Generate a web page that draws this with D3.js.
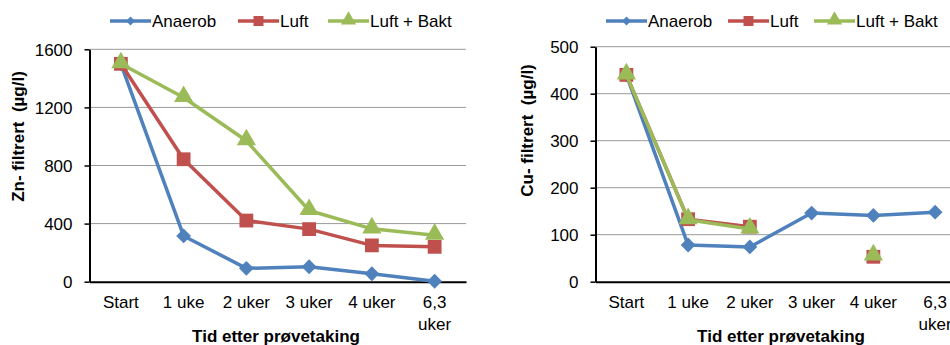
<!DOCTYPE html>
<html>
<head>
<meta charset="utf-8">
<script src="https://cdn.jsdelivr.net/npm/d3@7"></script>
<style>
  body { margin: 0; background: #fff; }
  text { font-family: Arial, 'Liberation Sans', sans-serif; }
</style>
</head>
<body>
<script>
  // data
  const categories = ['Start', '1 uke', '2 uker', '3 uker', '4 uker', '6,3 uker'];
  const seriesNames = ['Anaerob', 'Luft', 'Luft + Bakt'];

  const znAnaerob = [1500, 315, 92, 103, 55, 3];
  const znLuft = [1500, 843, 421, 362, 250, 240];
  const znLuftBakt = [1500, 1268, 970, 490, 364, 320];
  const znTicks = [0, 400, 800, 1200, 1600];

  const cuAnaerob = [440, 78, 74, 146, 141, 148];
  const cuLuft = [440, 133, 117, null, 53, null];
  const cuLuftBakt = [440, 132, 112, null, 55, null];
  const cuTicks = [0, 100, 200, 300, 400, 500];

  const colors = ['#4F81BD', '#C0504D', '#9BBB59'];

  const width = 950;
  const height = 345;

  const svg = d3
    .select('body')
    .append('svg')
    .attr('width', width)
    .attr('height', height);

  function markerPath(i, size) {
    // diamond = rotated square
    if (i === 2) return d3.symbol().type(d3.symbolTriangle).size(size)();
    return d3.symbol().type(d3.symbolSquare).size(size)();
  }

  function drawChart(cfg) {
    const g = svg.append('g');
    const x = d3.scaleBand().domain(categories).range([cfg.left, cfg.right]);
    const y = d3.scaleLinear().domain([0, cfg.max]).range([281.7, cfg.top]);

    // gridlines
    g.append('g')
      .selectAll('line')
      .data(cfg.ticks.filter((t) => t > 0))
      .enter()
      .append('line')
      .attr('x1', cfg.left)
      .attr('x2', cfg.right)
      .attr('y1', (d) => y(d))
      .attr('y2', (d) => y(d))
      .style('stroke', '#9a9a9a')
      .style('stroke-width', 1);

    // y axis
    const yAxis = g.append('g')
      .attr('transform', `translate(${cfg.left}, 0)`)
      .call(d3.axisLeft(y).tickValues(cfg.ticks).tickFormat(d3.format('d'))
        .tickSize(5).tickSizeOuter(0).tickPadding(12));
    yAxis.select('.domain').style('stroke', '#000').style('stroke-width', 2);
    yAxis.selectAll('.tick line').style('stroke', '#000').style('stroke-width', 1.5);
    yAxis.selectAll('.tick text')
      .style('font-size', '17px')
      .style('fill', '#000')
      .attr('dy', '0.36em');

    // x axis
    const xAxis = g.append('g')
      .attr('transform', `translate(0, ${y(0)})`)
      .call(d3.axisBottom(x).tickSize(0).tickSizeOuter(0).tickPadding(0));
    xAxis.select('.domain').style('stroke', '#000').style('stroke-width', 2);
    xAxis.selectAll('.tick text')
      .style('font-size', '17px')
      .style('fill', '#000')
      .attr('y', 0)
      .attr('dy', 0)
      .each(function (d) {
        const t = d3.select(this);
        t.text(null);
        const tmp = t.append('tspan').text(d);
        if (tmp.node().getComputedTextLength() > x.bandwidth() - 4) {
          tmp.remove();
          d.split(' ').forEach((w, k) => {
            t.append('tspan').attr('x', 0).attr('y', 26 + k * 22).text(w);
          });
        } else {
          tmp.attr('x', 0).attr('y', 26);
        }
      });

    // series
    cfg.series.forEach((vals, i) => {
      const pts = vals.map((v, k) => ({ c: categories[k], v }));
      const line = d3.line()
        .defined((d) => d.v != null)
        .x((d) => x(d.c) + x.bandwidth() / 2)
        .y((d) => y(d.v));
      g.append('path')
        .datum(pts)
        .attr('d', line)
        .style('fill', 'none')
        .style('stroke', colors[i])
        .style('stroke-width', 3.5)
        .style('stroke-linejoin', 'round');
      g.append('g')
        .selectAll('path')
        .data(pts.filter((d) => d.v != null))
        .enter()
        .append('path')
        .attr('d', markerPath(i, i === 0 ? 110 : i === 1 ? 190 : 160))
        .attr('transform', (d) => `translate(${x(d.c) + x.bandwidth() / 2}, ${y(d.v) + (i === 2 ? -1 : 0)})${i === 0 ? ' rotate(45)' : ''}`)
        .style('fill', colors[i]);
    });

    // axis titles
    g.append('text')
      .text(cfg.yTitle)
      .attr('transform', `translate(${cfg.yTitleX}, ${cfg.yTitleY}) rotate(-90)`)
      .attr('text-anchor', 'middle')
      .attr('dy', '0.36em')
      .style('font-size', '17px')
      .style('font-weight', 'bold')
      .style('white-space', 'pre');
    g.append('text')
      .text('Tid etter prøvetaking')
      .attr('x', cfg.xTitleX)
      .attr('y', 341.5)
      .attr('text-anchor', 'middle')
      .style('font-size', '17px')
      .style('font-weight', 'bold');

    // legend
    const legend = g.append('g').attr('transform', 'translate(0, 21)');
    cfg.legendX.forEach((lx, i) => {
      legend.append('line')
        .attr('x1', lx)
        .attr('x2', lx + 41)
        .style('stroke', colors[i])
        .style('stroke-width', 3.5);
      legend.append('path')
        .attr('d', markerPath(i, i === 0 ? 40 : 100))
        .attr('transform', `translate(${lx + 20.5}, ${i === 2 ? -1 : 0})${i === 0 ? ' rotate(45)' : ''}`)
        .style('fill', colors[i]);
      legend.append('text')
        .text(seriesNames[i])
        .attr('x', lx + 42)
        .attr('dy', '0.36em')
        .style('font-size', '17px');
    });
  }

  drawChart({
    left: 89.5, right: 466, top: 49.3, max: 1600, ticks: znTicks,
    series: [znAnaerob, znLuft, znLuftBakt],
    yTitle: 'Zn- filtrert  (µg/l)', yTitleX: 18, yTitleY: 136.5,
    xTitleX: 276, legendX: [110, 238, 328],
  });

  drawChart({
    left: 595.5, right: 966, top: 46.7, max: 500, ticks: cuTicks,
    series: [cuAnaerob, cuLuft, cuLuftBakt],
    yTitle: 'Cu- filtrert  (µg/l)', yTitleX: 527, yTitleY: 130.5,
    xTitleX: 781, legendX: [606, 728, 814],
  });
</script>
</body>
</html>
